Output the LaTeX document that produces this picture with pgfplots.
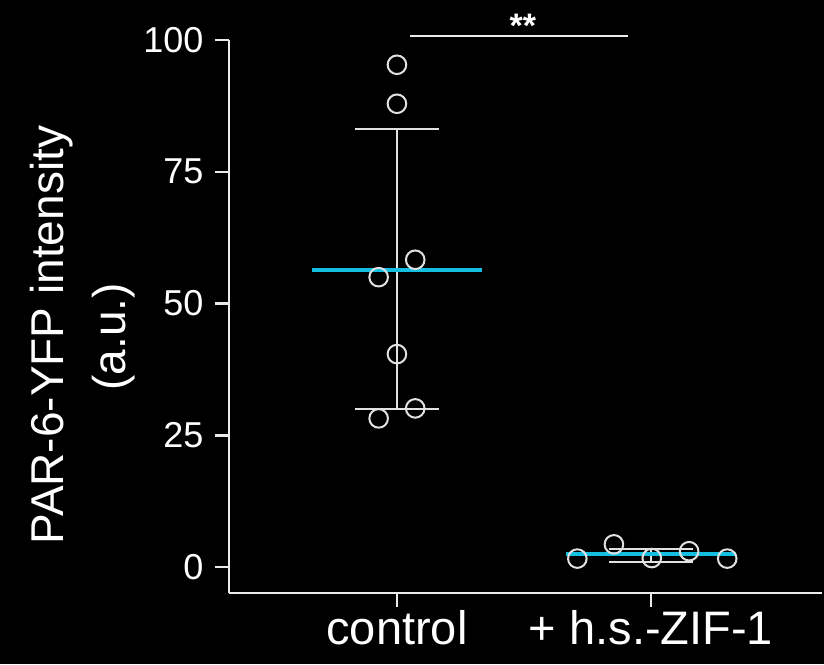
\documentclass[border=0pt]{standalone}
\usepackage{fontspec}
\setmainfont{Liberation Sans}
\usepackage{pgfplots}
\pgfplotsset{compat=1.18}
\definecolor{meancyan}{RGB}{20,190,225}
\definecolor{ptgray}{RGB}{225,225,225}
\definecolor{axgray}{RGB}{235,235,235}
\begin{document}
\begin{tikzpicture}
\fill[black] (-229pt,-71pt) rectangle (595pt,593pt);
\begin{axis}[
 scale only axis, width=593pt, height=553pt,
 xmin=-0.661, xmax=1.673, ymin=-4.93, ymax=100,
 axis x line=bottom, axis y line=left,
 axis line style={-, line width=2.5pt, color=axgray},
 every tick/.style={line width=2.5pt, axgray},
 tick align=outside, major tick length=14pt,
 xtick={0,1}, xticklabels={control,{+ h.s.-ZIF-1}},
 ytick={0,25,50,75,100},
 tick label style={white},
 xticklabel style={font=\fontsize{47}{56}\selectfont},
 yticklabel style={font=\fontsize{36}{43}\selectfont, xshift=-8pt},
 /pgf/number format/assume math mode=true,
 clip=false,
]
% error bars (mean +/- SD)
\addplot[ptgray, line width=2pt, forget plot] coordinates {(0,29.9) (0,83.1)};
\addplot[ptgray, line width=2pt, forget plot] coordinates {(-0.167,83.1) (0.167,83.1)};
\addplot[ptgray, line width=2pt, forget plot] coordinates {(-0.167,29.9) (0.167,29.9)};
\addplot[ptgray, line width=2pt, forget plot] coordinates {(1,1.0) (1,3.35)};
\addplot[ptgray, line width=2pt, forget plot] coordinates {(0.833,3.35) (1.167,3.35)};
\addplot[ptgray, line width=2pt, forget plot] coordinates {(0.833,1.0) (1.167,1.0)};
% means
\addplot[meancyan, line width=4.5pt] coordinates {(-0.333,56.4) (0.333,56.4)};
\addplot[meancyan, line width=4.5pt] coordinates {(0.667,2.45) (1.333,2.45)};
% individual points
\addplot[only marks, mark=o, mark size=9.3pt, mark options={line width=2pt, ptgray}]
  coordinates {(0,95.3) (0,87.9) (0.072,58.3) (-0.072,55.0) (0,40.4) (0.072,30.1) (-0.072,28.2)};
\addplot[only marks, mark=o, mark size=9.3pt, mark options={line width=2pt, ptgray}]
  coordinates {(0.71,1.6) (0.854,4.3) (1.003,1.7) (1.15,3.0) (1.30,1.6)};
% significance
\addplot[axgray, line width=2pt] coordinates {(0.051,100.8) (0.909,100.8)};
\node[white, font=\fontsize{34}{40}\selectfont\bfseries] at (axis cs:0.496,102.7) {**};
\end{axis}
\node[rotate=90, anchor=base, white, font=\fontsize{46}{55}\selectfont] at (-165pt,258pt) {PAR-6-YFP intensity};
\node[rotate=90, anchor=base, white, font=\fontsize{46}{55}\selectfont] at (-103pt,256pt) {(a.u.)};
\pgfresetboundingbox
\path (-229pt,-71pt) rectangle (595pt,593pt);
\end{tikzpicture}
\end{document}
